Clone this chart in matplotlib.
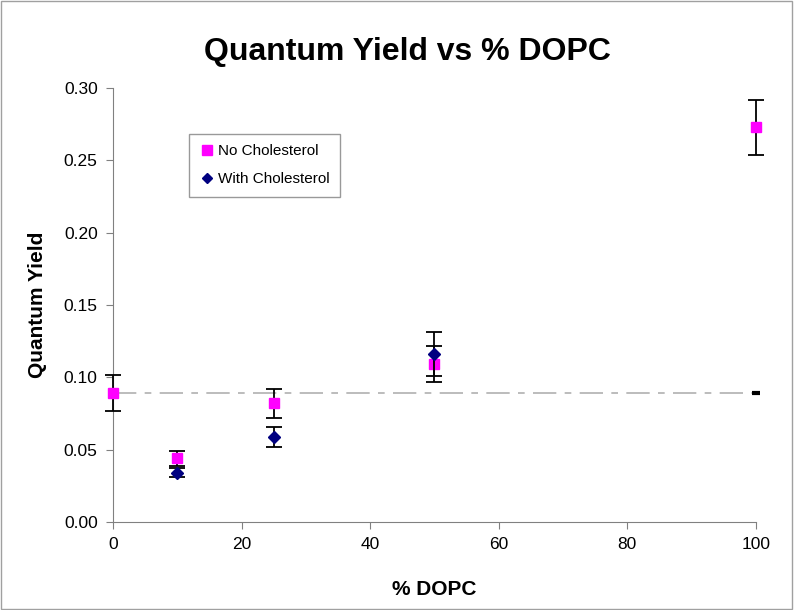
import numpy as np
from matplotlib import pyplot as plt
from matplotlib.patches import Rectangle
from matplotlib.lines import Line2D

plt.rcParams['font.family'] = ['Liberation Sans', 'DejaVu Sans']

# data
x_no = [0, 10, 25, 50, 100]
y_no = [0.089, 0.044, 0.082, 0.109, 0.273]
err_no = [0.0125, 0.005, 0.010, 0.0125, 0.019]

x_with = [10, 25, 50]
y_with = [0.034, 0.059, 0.116]
err_with = [0.003, 0.007, 0.015]

ref_x = [0, 100]
ref_y = [0.089, 0.089]

fig = plt.figure(figsize=(7.94, 6.10), dpi=100)
ax = fig.add_axes([0.1423, 0.1443, 0.8097, 0.7114])

# reference line (pure DOPC level)
ax.plot(ref_x, ref_y, color='#b0b0b0', lw=1.2, dashes=[14, 5, 4, 5], zorder=1)
ax.plot(ref_x, ref_y, ls='none', marker='_', ms=6, mew=3, color='black', zorder=2)

ax.errorbar(x_no, y_no, yerr=err_no, fmt='s', color='#ff00ff', ms=7,
            ecolor='black', elinewidth=1.3, capsize=6, capthick=1.3, zorder=3)
ax.errorbar(x_with, y_with, yerr=err_with, fmt='D', color='#000080', ms=6,
            ecolor='black', elinewidth=1.3, capsize=6, capthick=1.3, zorder=4)

ax.set_xlim(0, 100)
ax.set_ylim(0, 0.30)
ax.set_xticks(np.arange(0, 101, 20))
ax.set_yticks(np.arange(0, 0.301, 0.05))
ax.set_yticklabels(['%.2f' % v for v in np.arange(0, 0.301, 0.05)])
ax.tick_params(labelsize=12.5, direction='out', length=5, color='#808080', pad=6)
for s in ['top', 'right']:
    ax.spines[s].set_visible(False)
for s in ['left', 'bottom']:
    ax.spines[s].set_color('#808080')
for artist in ax.get_children():
    artist.set_clip_on(False)

ax.set_xlabel('% DOPC', fontsize=15, fontweight='bold', labelpad=20)
ax.set_ylabel('Quantum Yield', fontsize=15, fontweight='bold', labelpad=12)
fig.text(0.513, 0.915, 'Quantum Yield vs % DOPC', ha='center', va='center',
         fontsize=23, fontweight='bold')

handles = [Line2D([], [], ls='none', marker='s', color='#ff00ff', ms=7),
           Line2D([], [], ls='none', marker='D', color='#000080', ms=5.5)]
leg = ax.legend(handles, ['No Cholesterol', 'With Cholesterol'],
                loc='upper left', bbox_to_anchor=(0.118, 0.895), fontsize=11,
                frameon=True, fancybox=False, edgecolor='#808080',
                handletextpad=0.2, handlelength=1.0, borderpad=0.7,
                labelspacing=0.9, borderaxespad=0)
leg.get_frame().set_linewidth(1.0)

fig.patches.append(Rectangle((0.001, 0.002), 0.997, 0.996, transform=fig.transFigure,
                             fill=False, edgecolor='#a0a0a0', lw=1))

fig.savefig('out.png', dpi=100)
